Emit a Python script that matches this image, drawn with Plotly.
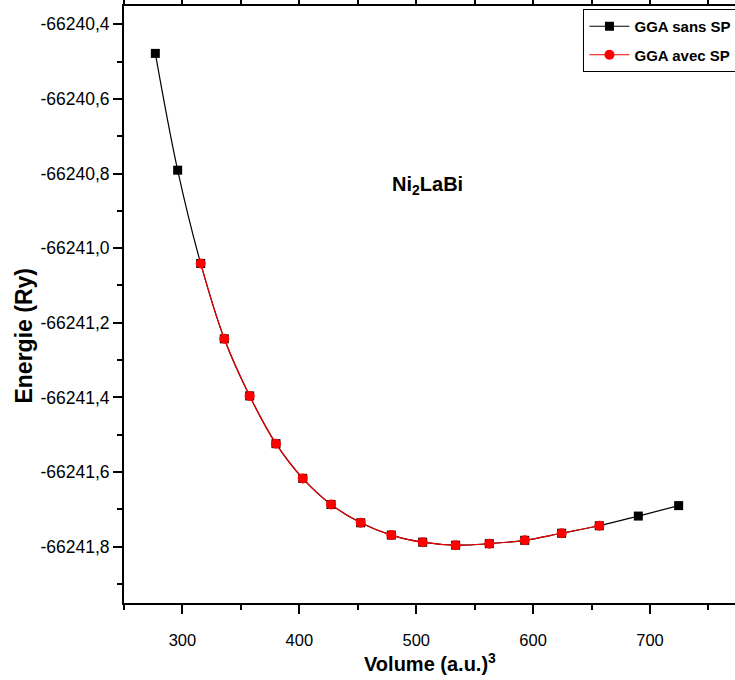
import numpy as np
import plotly.graph_objects as go

# Unit-cell volume (a.u.^3) and total energy (Ry) for Ni2LaBi
volume_sans = [276.8, 295.9, 315.6, 335.8, 357.5, 380.0, 402.9, 427.1, 452.5,
               478.7, 505.5, 533.7, 562.5, 592.8, 624.4, 656.6, 690.0, 724.5]
energie_sans = [-66240.478, -66240.791, -66241.041, -66241.243, -66241.396,
                -66241.524, -66241.617, -66241.687, -66241.736, -66241.769,
                -66241.788, -66241.796, -66241.792, -66241.783, -66241.764,
                -66241.744, -66241.718, -66241.690]

volume_avec = [315.6, 335.8, 357.5, 380.0, 402.9, 427.1, 452.5,
               478.7, 505.5, 533.7, 562.5, 592.8, 624.4, 656.6]
energie_avec = [-66241.041, -66241.243, -66241.396, -66241.524, -66241.617,
                -66241.687, -66241.736, -66241.769, -66241.788, -66241.796,
                -66241.792, -66241.783, -66241.764, -66241.744]

y_tick_vals = [-66240.4, -66240.6, -66240.8, -66241.0, -66241.2, -66241.4,
               -66241.6, -66241.8]
y_tick_text = ["-66240,4", "-66240,6", "-66240,8", "-66241,0", "-66241,2",
               "-66241,4", "-66241,6", "-66241,8"]

FONT = "Liberation Sans, Arial, sans-serif"

fig = go.Figure()
fig.add_trace(go.Scatter(
    x=volume_sans, y=energie_sans, name="<b>GGA sans SP</b>", legendgroup="a",
    mode="lines+markers", line=dict(color="black", width=1.2, shape="spline"),
    marker=dict(symbol="square", size=9, color="black"),
))
fig.add_trace(go.Scatter(
    x=volume_avec, y=energie_avec, name="<b>GGA avec SP</b>", legendgroup="b",
    mode="lines+markers", line=dict(color="#ee0000", width=1.2, shape="spline"),
    marker=dict(symbol="circle", size=10, color="#ff0000"),
))

minor_y = np.round(np.arange(-66240.5, -66242.0, -0.2), 1)

fig.update_layout(
    width=735, height=680,
    margin=dict(l=124, r=0, t=6, b=76.5, autoexpand=False),
    plot_bgcolor="white", paper_bgcolor="white",
    font=dict(family=FONT, color="black"),
    showlegend=True,
    legend=dict(
        x=0.752, y=0.995, xanchor="left", yanchor="top",
        bordercolor="black", borderwidth=1, bgcolor="white",
        font=dict(family=FONT, size=15, color="black"),
        tracegroupgap=6, itemwidth=40,
    ),
    xaxis=dict(
        range=[250, 772.7], tickmode="linear", tick0=300, dtick=100,
        showline=True, linecolor="black", linewidth=2, mirror="allticks",
        ticks="outside", ticklen=9, tickwidth=2, tickcolor="black",
        showgrid=False, zeroline=False, ticklabelstandoff=12,
        tickfont=dict(family=FONT, size=16.5, color="black"),
        minor=dict(dtick=50, tick0=250, ticks="outside", ticklen=5,
                   tickwidth=2, tickcolor="black", showgrid=False),
    ),
    yaxis=dict(
        range=[-66241.951, -66240.351], tickmode="array",
        tickvals=y_tick_vals, ticktext=y_tick_text,
        showline=True, linecolor="black", linewidth=2, mirror=False,
        ticks="outside", ticklen=9, tickwidth=2, tickcolor="black",
        showgrid=False, zeroline=False,
        tickfont=dict(family=FONT, size=17.5, color="black"),
        minor=dict(tickmode="array", tickvals=minor_y, ticks="outside",
                   ticklen=5, tickwidth=2, tickcolor="black", showgrid=False),
    ),
    annotations=[
        dict(text="Ni<sub>2</sub>LaBi", xref="paper", yref="paper",
             x=0.4975, y=0.700, xanchor="center", yanchor="middle",
             showarrow=False,
             font=dict(family=FONT, size=20, color="black", weight="bold")),
        dict(text="Energie (Ry)", xref="paper", yref="paper",
             x=-0.1637, y=0.448, xanchor="center", yanchor="middle",
             textangle=-90, showarrow=False,
             font=dict(family=FONT, size=23, color="black", weight="bold")),
        dict(text="Volume (a.u.)<sup>3</sup>", xref="paper", yref="paper",
             x=0.5008, y=-0.100, xanchor="center", yanchor="middle",
             showarrow=False,
             font=dict(family=FONT, size=20, color="black", weight="bold")),
    ],
)

fig.write_html("out.html")
